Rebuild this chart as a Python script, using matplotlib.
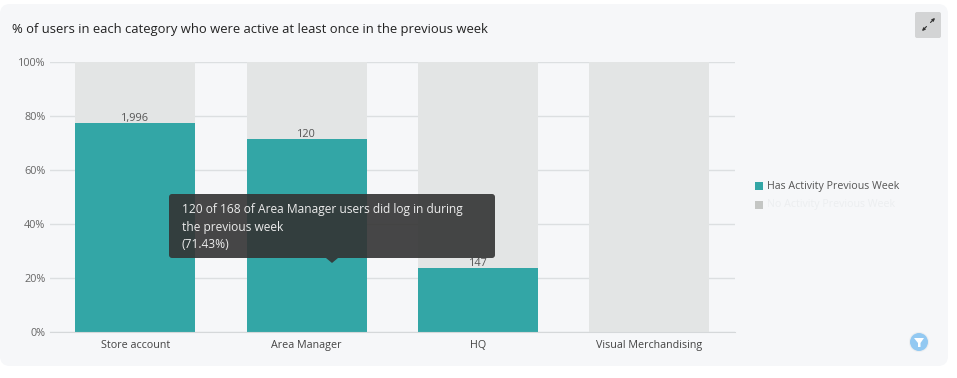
import matplotlib
matplotlib.use("Agg")
import matplotlib.pyplot as plt
from matplotlib.patches import FancyBboxPatch, Polygon, Circle, Rectangle
import numpy as np

plt.rcParams['font.family'] = ['Open Sans', 'DejaVu Sans']

categories = ["Store account", "Area Manager", "HQ", "Visual Merchandising"]
has_activity = [77.4, 71.43, 23.7, 0]
no_activity = [22.6, 28.57, 76.3, 100]
bar_labels = ["1,996", "120", "147", ""]
yticks = [0, 20, 40, 60, 80, 100]
ytick_labels = ["0%", "20%", "40%", "60%", "80%", "100%"]

title = "% of users in each category who were active at least once in the previous week"
tooltip_lines = ["120 of 168 of Area Manager users did log in during", "the previous week", "(71.43%)"]
legend_names = ["Has Activity Previous Week", "No Activity Previous Week"]

W, H = 957, 378
teal = "#33a6a6"
grey = "#e3e5e5"
panel = "#f6f7f9"

fig = plt.figure(figsize=(W / 100, H / 100), dpi=100, facecolor="white")

# overlay in pixel coords, for the page furniture
bg = fig.add_axes([0, 0, 1, 1], zorder=0)
bg.set_xlim(0, W)
bg.set_ylim(H, 0)
bg.axis("off")
bg.add_patch(FancyBboxPatch((0, 4), 948, 362, boxstyle="round,pad=0,rounding_size=10",
                            fc=panel, ec="none"))
bg.text(12, 30, title, fontsize=9.37, color="#222222", va="center", ha="left")

ax = fig.add_axes([49.5 / W, 1 - 332 / H, 685.5 / W, 270 / H], zorder=1)
ax.patch.set_alpha(0)
x = np.arange(len(categories))
ax.bar(x, has_activity, width=0.7, color=teal, zorder=2)
ax.bar(x, no_activity, width=0.7, bottom=has_activity, color=grey, zorder=2)
for i in range(len(categories)):
    if bar_labels[i]:
        ax.text(x[i], has_activity[i] - 0.2, bar_labels[i], ha="center", va="bottom",
                fontsize=7.8, color="#555555", zorder=3)
ax.set_xlim(-0.5, 3.5)
ax.set_ylim(0, 100)
ax.set_yticks(yticks)
ax.set_yticklabels(ytick_labels, fontsize=7.8, color="#666666")
ax.set_xticks(x)
ax.set_xticklabels(categories, fontsize=7.75, color="#444444")
ax.tick_params(axis="y", length=0, pad=3)
ax.tick_params(axis="x", length=0, pad=6)
ax.yaxis.grid(True, color="#dcdfe1", lw=1, zorder=0)
ax.set_axisbelow(True)
for s in ax.spines.values():
    s.set_visible(False)
ax.spines["bottom"].set_visible(True)
ax.spines["bottom"].set_color("#d5d8da")

# top overlay: legend, tooltip, buttons
fg = fig.add_axes([0, 0, 1, 1], zorder=2)
fg.set_xlim(0, W)
fg.set_ylim(H, 0)
fg.axis("off")
fg.patch.set_alpha(0)

fg.add_patch(Rectangle((755, 182), 8, 8, fc=teal, ec="none"))
fg.text(767, 186, legend_names[0], fontsize=7.65, color="#555555", va="center")
fg.add_patch(Rectangle((755, 201), 8, 8, fc="#c4c6c4", ec="none"))
fg.text(767, 205, legend_names[1], fontsize=7.65, color="#eceef0", va="center")

fg.add_patch(FancyBboxPatch((169, 194), 326, 64, boxstyle="round,pad=0,rounding_size=3",
                            fc="#333333", ec="none", alpha=0.9))
fg.add_patch(Polygon([[326, 258], [338, 258], [332, 263]], fc="#333333", ec="none", alpha=0.9))
for i, line in enumerate(tooltip_lines):
    fg.text(182, 210 + i * 17, line, fontsize=8.66, color="#ececec", va="center", ha="left")

# expand button
fg.add_patch(FancyBboxPatch((915, 12), 26, 26, boxstyle="round,pad=0,rounding_size=2",
                            fc="#d3d4d5", ec="none"))
fg.annotate("", xy=(935, 18), xytext=(930.5, 22.5),
            arrowprops=dict(arrowstyle="-|>", color="#333333", lw=0.8, mutation_scale=4,
                            shrinkA=0, shrinkB=0))
fg.annotate("", xy=(922, 31), xytext=(926.5, 26.5),
            arrowprops=dict(arrowstyle="-|>", color="#333333", lw=0.8, mutation_scale=4,
                            shrinkA=0, shrinkB=0))

# filter button
fg.add_patch(Circle((919, 342), 10, fc="#eceef0", ec="none"))
fg.add_patch(Circle((919, 342), 9, fc="#93c9f2", ec="none"))
fg.add_patch(Polygon([[914, 338], [924, 338], [920.5, 343], [920.5, 347], [918, 347], [918, 343]],
                     fc="white", ec="none"))

plt.savefig("out.png", dpi=100, facecolor="white")
